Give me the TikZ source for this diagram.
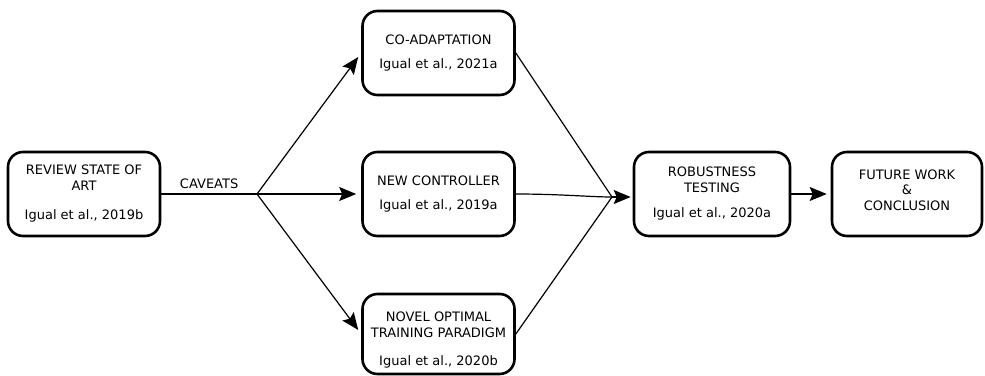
\documentclass[tikz,border=0pt]{standalone}
\usepackage{fontspec}
\setmainfont{DejaVu Sans}
\usetikzlibrary{arrows.meta}
\begin{document}
\begin{tikzpicture}[x=1pt,y=-1pt,
  stage/.style={draw, line width=2.6pt, rounded corners=15pt, align=center,
    minimum width=152pt, minimum height=84pt, inner sep=0pt,
    font=\fontsize{13}{15.5}\selectfont},
  link/.style={line width=1.2pt},
  arr/.style={link, -{Stealth[length=17pt,width=14pt,inset=3pt]}}]
\useasboundingbox (0,0) rectangle (985,375);
% stage boxes
\node[stage] (rev) at (84,194) {REVIEW STATE OF\\ART\\[14pt]Igual et al., 2019b};
\node[stage] (co) at (438.5,53) {CO-ADAPTATION\\[9pt]Igual et al., 2021a};
\node[stage] (nc) at (438.5,194) {NEW CONTROLLER\\[9pt]Igual et al., 2019a};
\node[stage, minimum height=80pt] (nov) at (438.5,334) {\rule{0pt}{22pt}NOVEL OPTIMAL\\TRAINING PARADIGM\\[13pt]Igual et al., 2020b};
\node[stage, minimum width=156pt] (rob) at (712,194) {ROBUSTNESS\\TESTING\\[10pt]Igual et al., 2020a};
\node[stage, minimum width=150pt] (fut) at (907,194) {FUTURE WORK\\\&\\CONCLUSION\rule[-8pt]{0pt}{8pt}};
% branch and merge points
\coordinate (split) at (257,194);
\coordinate (join) at (612,197);
% connectors
\draw[link] (rev.east) -- node[above, font=\fontsize{13}{15.5}\selectfont, yshift=1pt] {CAVEATS} (split);
\draw[arr, shorten >=5pt] (split) -- (co.west);
\draw[arr, shorten >=5pt] (split) -- (nc.west);
\draw[arr, shorten >=5pt] (split) -- (nov.west);
\draw[link] (co.east) -- (join);
\draw[link] (nc.east) .. controls (560,194) and (590,197) .. (join);
\draw[link] (nov.east) -- (join);
\draw[arr, shorten >=2pt] (join) -- (rob.west |- join);
\draw[arr, shorten >=4pt] (rob.east) -- (fut.west);
\end{tikzpicture}
\end{document}
